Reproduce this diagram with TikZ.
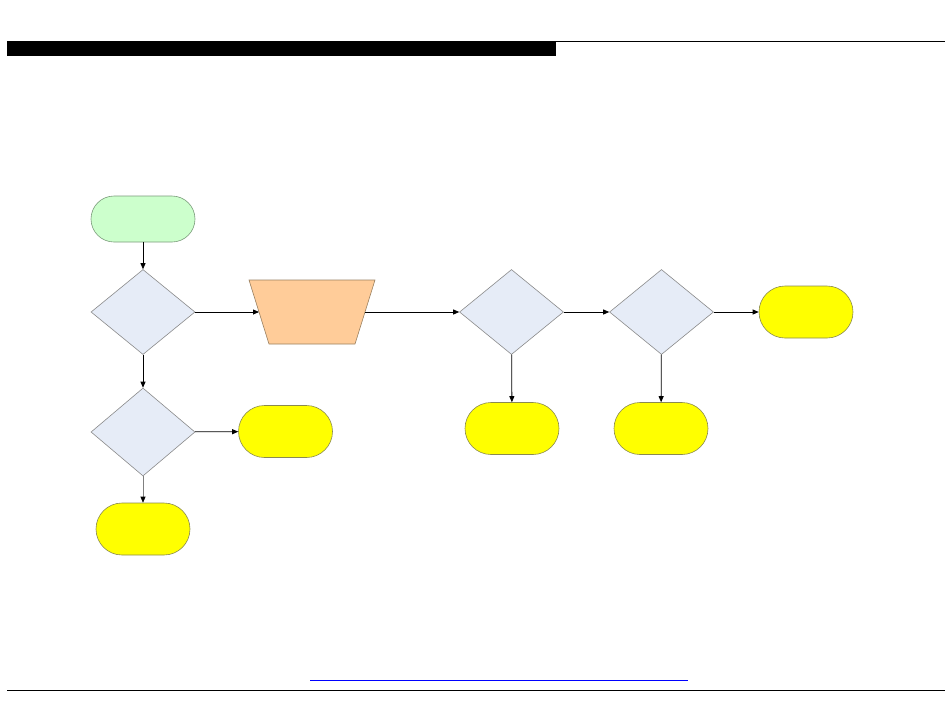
\documentclass[tikz,border=0pt]{standalone}
\usetikzlibrary{shapes.geometric,shapes.misc,arrows.meta}
\definecolor{startfill}{HTML}{CCFFCC}
\definecolor{startedge}{HTML}{7A9A7A}
\definecolor{decfill}{HTML}{E6ECF7}
\definecolor{decedge}{HTML}{8A8A8A}
\definecolor{trapfill}{HTML}{FFCC99}
\definecolor{trapedge}{HTML}{9A8060}
\definecolor{endfill}{HTML}{FFFF00}
\definecolor{endedge}{HTML}{8A8A50}
\begin{document}
\begin{tikzpicture}[x=1pt,y=-1pt,
  term/.style={rounded rectangle,draw=endedge,fill=endfill,line width=0.6pt,inner sep=0pt,minimum width=94pt,minimum height=52pt},
  startbox/.style={rounded rectangle,draw=startedge,fill=startfill,line width=0.6pt,inner sep=0pt,minimum width=104pt,minimum height=46pt},
  decision/.style={diamond,draw=decedge,fill=decfill,line width=0.6pt,inner sep=0pt,minimum width=104pt,minimum height=85pt},
  manualshape/.style={draw=trapedge,fill=trapfill,line width=0.6pt},
  flow/.style={-{Triangle[length=6pt,width=5pt]},line width=0.8pt,black}]
\useasboundingbox (0,0) rectangle (950,716);
% header / footer
\fill[black] (7,41) rectangle (556,56);
\draw[line width=1pt] (556,41) -- (945,41);
\draw[line width=1pt] (7,690) -- (945,690);
\draw[blue,line width=1pt] (310,680) -- (688,680);
% nodes
\node[startbox] (start) at (143,219) {};
\node[decision] (d1) at (143,312) {};
\draw[manualshape] (249,280) -- (375,280) -- (355,344) -- (269,344) -- cycle;
\coordinate (mw) at (259,312);
\coordinate (me) at (365,312);
\node[decision,minimum height=88pt] (d2) at (143,432) {};
\node[term] (t1) at (285.5,431.5) {};
\node[term] (t2) at (143,529) {};
\node[decision] (d3) at (511.5,312) {};
\node[decision] (d4) at (661.5,312) {};
\node[term] (t3) at (806,312) {};
\node[term] (t4) at (512,428.5) {};
\node[term] (t5) at (661,428.5) {};
% connectors
\draw[flow] (start) -- (d1);
\draw[flow] (d1) -- (mw);
\draw[flow] (me) -- (d3);
\draw[flow] (d3) -- (d4);
\draw[flow] (d4) -- (t3);
\draw[flow] (d1) -- (d2);
\draw[flow] (d2) -- (t1);
\draw[-{Triangle[length=6pt,width=5pt,color=black]},line width=0.6pt,draw=gray] (d2) -- (t2);
\draw[flow] (d3) -- (t4);
\draw[flow] (d4) -- (t5);
\end{tikzpicture}
\end{document}
